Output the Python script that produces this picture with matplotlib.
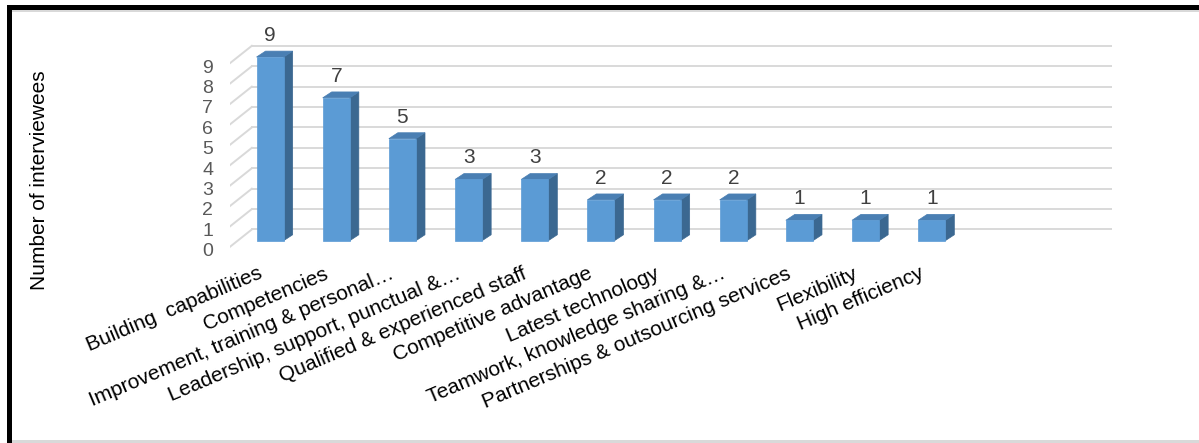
import numpy as np
import matplotlib.pyplot as plt
import matplotlib.transforms as mtransforms
from matplotlib.patches import Polygon, Rectangle

plt.rcParams['font.family'] = ['Liberation Sans', 'DejaVu Sans']

categories = ['Building  capabilities', 'Competencies', 'Improvement, training & personal…',
              'Leadership, support, punctual &…', 'Qualified & experienced staff',
              'Competitive advantage', 'Latest technology', 'Teamwork, knowledge sharing &…',
              'Partnerships & outsourcing services', 'Flexibility', 'High efficiency']
counts = [9, 7, 5, 3, 3, 2, 2, 2, 1, 1, 1]
yticks = list(range(10))
n_slots = 13  # two empty slots at the end, as in the original

# 3d look: offsets in data units
wall_dx, wall_dy = 0.33, 0.85
bar_dx, bar_dy = 0.106, 0.30
depth_dx, depth_dy = 0.136, 0.29
bar_w = 0.41

W, H = 1199, 443
fig = plt.figure(figsize=(W / 100, H / 100), dpi=100)
ax = fig.add_axes([230 / W, 1 - 257 / H, (1112 - 230) / W, (257 - 25) / H])
ax.set_xlim(-0.5, n_slots - 0.5 + wall_dx)
ax.set_ylim(-0.5, 10.87)

grid_c = '#d9d9d9'
x0 = -0.5
x1 = n_slots - 0.5 + wall_dx
for v in yticks:
    ax.plot([x0, x0 + wall_dx], [v, v + wall_dy], color=grid_c, lw=1.4, zorder=1)
    ax.plot([x0 + wall_dx, x1], [v + wall_dy, v + wall_dy], color=grid_c, lw=1.4, zorder=1)

front_c = '#5b9bd5'
side_c = '#3b6891'
top_c = '#4a7fb3'
x = np.arange(len(counts))
bars = ax.bar(x + bar_dx, counts, width=bar_w, bottom=bar_dy, color=front_c,
              edgecolor=front_c, lw=0.5, zorder=3)
for b, v in zip(bars, counts):
    l = b.get_x()
    r = l + b.get_width()
    t = b.get_y() + b.get_height()
    bt = b.get_y()
    ax.add_patch(Polygon([(r, bt), (r + depth_dx, bt + depth_dy), (r + depth_dx, t + depth_dy), (r, t)],
                         closed=True, facecolor=side_c, edgecolor=side_c, lw=0.5, zorder=2))
    ax.add_patch(Polygon([(l, t), (l + depth_dx, t + depth_dy), (r + depth_dx, t + depth_dy), (r, t)],
                         closed=True, facecolor=top_c, edgecolor=top_c, lw=0.5, zorder=2))
    ax.text((l + r) / 2, t + depth_dy + 0.3, str(v), ha='center', va='bottom',
            fontsize=15, color='#404040')

ax.set_xticks(x)
ax.set_xticklabels(categories, rotation=23, ha='right', va='baseline', rotation_mode='anchor',
                   fontsize=15, color='black')
ax.set_yticks(yticks)
ax.set_yticklabels([str(t) for t in yticks], fontsize=14, color='#595959')
ax.tick_params(axis='both', length=0)
ax.tick_params(axis='x', pad=15)
ax.tick_params(axis='y', pad=12)
shift = mtransforms.ScaledTranslation(0, -3 / 100, fig.dpi_scale_trans)
for lab in ax.get_yticklabels():
    lab.set_transform(lab.get_transform() + shift)
for s in ax.spines.values():
    s.set_visible(False)
ax.patch.set_alpha(0)

fig.text(40 / W, 1 - 180 / H, 'Number of interviewees', rotation=90, ha='center', va='center',
         fontsize=15, color='black')

# frame around the picture
fig.patches.append(Rectangle((7 / W, 1 - 10 / H), 1 - 7 / W, 5 / H, transform=fig.transFigure,
                             facecolor='black', edgecolor='none'))
fig.patches.append(Rectangle((7 / W, 0), 5 / W, 1 - 5 / H, transform=fig.transFigure,
                             facecolor='black', edgecolor='none'))
fig.patches.append(Rectangle((12 / W, 1 - 12 / H), 1 - 12 / W, 2 / H, transform=fig.transFigure,
                             facecolor='#d9d9d9', edgecolor='none'))
fig.patches.append(Rectangle((12 / W, 0), 1 - 12 / W, 3 / H, transform=fig.transFigure,
                             facecolor='#d9d9d9', edgecolor='none'))

fig.savefig('out.png', dpi=100)
